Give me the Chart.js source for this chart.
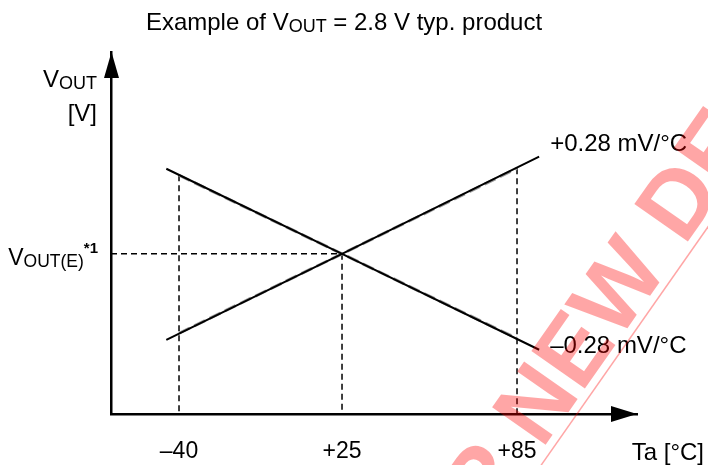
<!DOCTYPE html>
<html>
<head>
<meta charset="utf-8">
<script src="https://cdn.jsdelivr.net/npm/chart.js@4"></script>
<style>
  html, body { margin: 0; padding: 0; background: #fff; }
  #wrap { width: 708px; height: 465px; position: relative; }
</style>
</head>
<body>
<div id="wrap"><canvas id="c" width="708" height="465"></canvas></div>
<script>
// ---------------- data ----------------
const tempTicks      = [-40, 25, 85];                 // Ta [°C] tick values
const tempTickLabels = ['\u201340', '+25', '+85'];     // tick labels
const lineTemps      = [-45.6, 25, 93.3];            // Ta at ends / crossing of the two lines
const risingDev      = [-19.8, 0, 22.4];              // +0.28 mV/°C line, ΔVOUT [mV] (schematic)
const fallingDev     = [19.6, 0, -22.1];              // −0.28 mV/°C line, ΔVOUT [mV] (schematic)
const rangeTemps     = [-40, 25, 85];                 // guaranteed temperature range
const risingRange    = [-18.3, 0, 19.7];
const fallingRange   = [18.1, 0, -19.5];
const seriesLabels   = ['+0.28 mV/\u00B0C', '\u20130.28 mV/\u00B0C'];
const refLevel       = 0;                             // VOUT(E) level

// ---------------- layout ----------------
const X_MIN = -70, X_MAX = 130, Y_MIN = -36.9, Y_MAX = 46.5;
const X_ANCHORS = [[-40, 0.1293], [25, 0.4392], [85, 0.7719]]; // schematic (non-linear) axis
const FONT = '"Liberation Sans", Arial, sans-serif';

class PiecewiseScale extends Chart.LinearScale {
  static id = 'piecewise';
  static defaults = {};
  _pts() { return [[this.min, 0], ...X_ANCHORS, [this.max, 1]]; }
  getPixelForValue(value) {
    if (value === null || value === undefined || isNaN(value)) return NaN;
    const p = this._pts();
    let i = 1;
    while (i < p.length - 1 && value > p[i][0]) i++;
    const [v0, f0] = p[i - 1], [v1, f1] = p[i];
    return this.getPixelForDecimal(f0 + (value - v0) / (v1 - v0) * (f1 - f0));
  }
  getValueForPixel(pixel) {
    const d = this.getDecimalForPixel(pixel);
    const p = this._pts();
    let i = 1;
    while (i < p.length - 1 && d > p[i][1]) i++;
    const [v0, f0] = p[i - 1], [v1, f1] = p[i];
    return v0 + (d - f0) / (f1 - f0) * (v1 - v0);
  }
}
Chart.register(PiecewiseScale);

const pts = (xs, ys) => xs.map((x, i) => ({ x, y: ys[i] }));
const dashed = { borderColor: '#000', borderWidth: 1.5, borderDash: [6, 4], pointRadius: 0, order: 3 };

function rich(ctx, parts, x, y, align) {
  let w = 0;
  parts.forEach(p => { ctx.font = `${p.bold ? 'bold ' : ''}${p.size}px ${FONT}`; p.w = ctx.measureText(p.t).width; w += p.w; });
  let cx = align === 'right' ? x - w : align === 'center' ? x - w / 2 : x;
  ctx.textAlign = 'left'; ctx.textBaseline = 'alphabetic'; ctx.fillStyle = '#000';
  parts.forEach(p => { ctx.font = `${p.bold ? 'bold ' : ''}${p.size}px ${FONT}`; ctx.fillText(p.t, cx, y + (p.dy || 0)); cx += p.w; });
}

const decor = {
  id: 'decor',
  afterDraw(chart) {
    const { ctx, chartArea: a, scales: { x, y } } = chart;
    ctx.save();
    // arrowheads
    ctx.fillStyle = '#000';
    ctx.beginPath(); ctx.moveTo(a.left + 0.5, a.top); ctx.lineTo(a.left - 7, a.top + 26); ctx.lineTo(a.left + 8, a.top + 26); ctx.closePath(); ctx.fill();
    ctx.beginPath(); ctx.moveTo(a.right, a.bottom); ctx.lineTo(a.right - 26, a.bottom - 8); ctx.lineTo(a.right - 26, a.bottom + 8); ctx.closePath(); ctx.fill();
    // title
    rich(ctx, [{ t: 'Example of V', size: 24 }, { t: 'OUT', size: 18, dy: 2 }, { t: ' = 2.8 V typ. product', size: 24 }], 344, 30, 'center');
    // y-axis title
    rich(ctx, [{ t: 'V', size: 24 }, { t: 'OUT', size: 18, dy: 2 }], a.left - 14, 87, 'right');
    rich(ctx, [{ t: '[V]', size: 24 }], a.left - 14, 121, 'right');
    // reference level label
    const yr = y.getPixelForValue(refLevel);
    rich(ctx, [{ t: 'V', size: 23 }, { t: 'OUT(E)', size: 17.5, dy: 2 }, { t: '*1', size: 15, bold: true, dy: -12 }], a.left - 13, yr + 11, 'right');
    // series labels
    const xe = x.getPixelForValue(lineTemps[2]);
    rich(ctx, [{ t: seriesLabels[0], size: 24 }], xe + 11, y.getPixelForValue(risingDev[2]) - 6, 'left');
    rich(ctx, [{ t: seriesLabels[1], size: 24 }], xe + 11, y.getPixelForValue(fallingDev[2]) + 3, 'left');
    // x-axis title
    rich(ctx, [{ t: 'Ta [\u00B0C]', size: 24 }], 704, 460, 'right');
    // watermark
    ctx.font = `bold 95px ${FONT}`;
    const pre = 'NOT RECOMMENDED FOR ';
    const full = pre + 'NEW DESIGN';
    const pw = ctx.measureText(pre).width, fw = ctx.measureText(full).width;
    ctx.translate(542, 450);
    ctx.rotate(-55 * Math.PI / 180);
    ctx.fillStyle = 'rgba(255,0,0,0.35)';
    ctx.strokeStyle = 'rgba(255,0,0,0.35)';
    ctx.textAlign = 'left'; ctx.textBaseline = 'alphabetic';
    ctx.fillText(full, -pw, 0);
    ctx.lineWidth = 1.5;
    ctx.beginPath(); ctx.moveTo(-pw, 8); ctx.lineTo(fw - pw, 8); ctx.stroke();
    ctx.restore();
  }
};

new Chart(document.getElementById('c'), {
  type: 'line',
  data: {
    datasets: [
      { label: seriesLabels[0], data: pts(lineTemps, risingDev), borderColor: '#000', borderWidth: 2, pointRadius: 0, order: 1 },
      { label: seriesLabels[1], data: pts(lineTemps, fallingDev), borderColor: '#000', borderWidth: 2, pointRadius: 0, order: 1 },
      { label: 'range+', data: pts(rangeTemps, risingRange), borderColor: '#9a9a9a', borderWidth: 3, borderDash: [12, 5], pointRadius: 0, order: 2 },
      { label: 'range-', data: pts(rangeTemps, fallingRange), borderColor: '#9a9a9a', borderWidth: 3, borderDash: [12, 5], pointRadius: 0, order: 2 },
      { label: 'v-40', data: [{ x: rangeTemps[0], y: fallingRange[0] }, { x: rangeTemps[0], y: Y_MIN }], ...dashed },
      { label: 'v25',  data: [{ x: rangeTemps[1], y: refLevel }, { x: rangeTemps[1], y: Y_MIN }], ...dashed },
      { label: 'v85',  data: [{ x: rangeTemps[2], y: risingRange[2] }, { x: rangeTemps[2], y: Y_MIN }], ...dashed },
      { label: 'h',    data: [{ x: X_MIN, y: refLevel }, { x: rangeTemps[1], y: refLevel }], ...dashed }
    ]
  },
  options: {
    responsive: false,
    animation: false,
    events: [],
    layout: { padding: { left: 111, right: 71, top: 52, bottom: 0 } },
    plugins: { legend: { display: false }, tooltip: { enabled: false } },
    scales: {
      x: {
        type: 'piecewise', min: X_MIN, max: X_MAX,
        grid: { display: false, drawTicks: false },
        border: { display: true, color: '#000', width: 2.5 },
        afterBuildTicks: s => { s.ticks = tempTicks.map(v => ({ value: v })); },
        afterFit: s => { s.height = 51; },
        ticks: { padding: 24, color: '#000', font: { family: FONT, size: 23 }, maxRotation: 0, autoSkip: false,
                 callback: (v, i) => tempTickLabels[i] }
      },
      y: {
        type: 'linear', min: Y_MIN, max: Y_MAX,
        grid: { display: false, drawTicks: false },
        border: { display: true, color: '#000', width: 2.5 },
        afterFit: s => { s.width = 0; },
        ticks: { display: false }
      }
    }
  },
  plugins: [decor]
});
</script>
</body>
</html>
